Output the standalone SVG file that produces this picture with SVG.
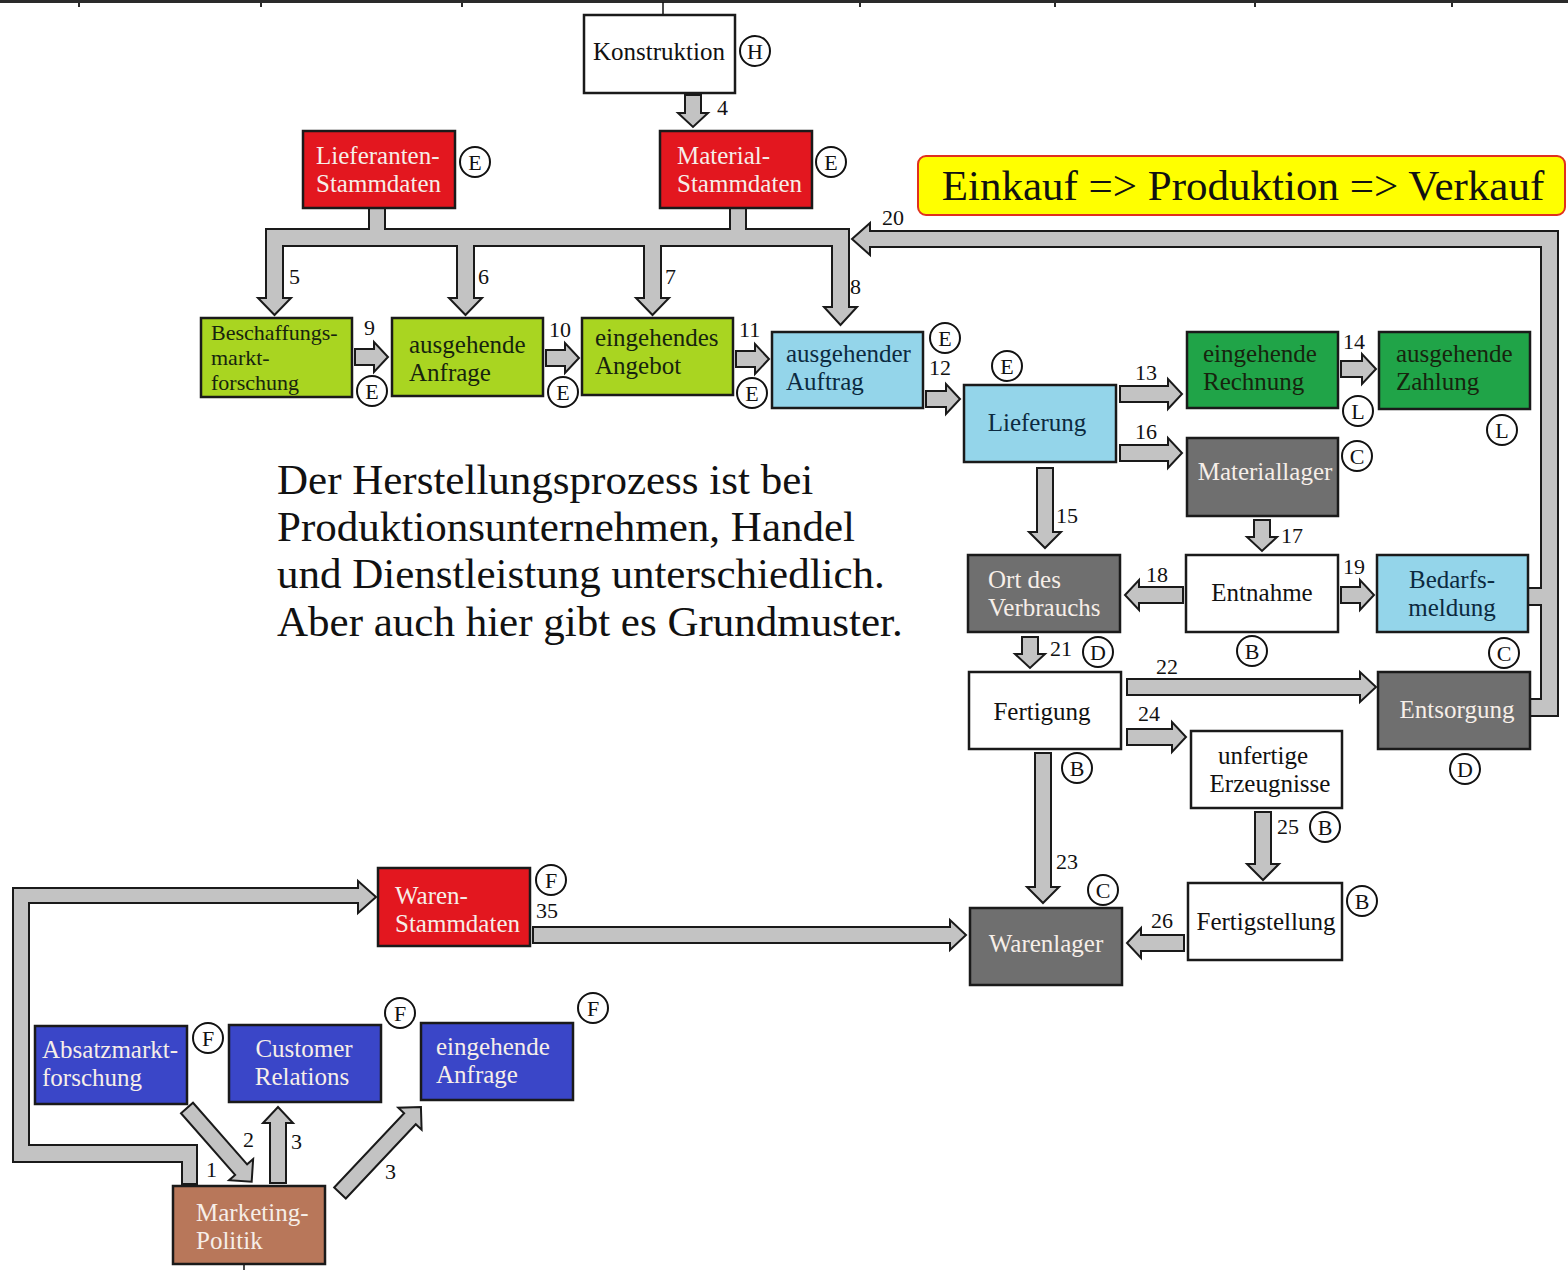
<svg xmlns="http://www.w3.org/2000/svg" width="1568" height="1270" viewBox="0 0 1568 1270">
<style>
.box{stroke:#1a1a1a;stroke-width:2.5}
.red{fill:#e3171f}.lg{fill:#a9d521}.lb{fill:#94d5ea}.dg{fill:#20a448}.gr{fill:#6f6f6f}.wh{fill:#ffffff}.bl{fill:#3a46c8}.br{fill:#b8775a}
text{font-family:"Liberation Serif","Times New Roman",serif}
.t{font-size:25px}
.tw{fill:#f6eee8}.td{fill:#17240e}.tb{fill:#0c2a40}.tk{fill:#111}
.num{font-size:22px;fill:#111}
.arrow{fill:#c3c3c3;stroke:#1a1a1a;stroke-width:2;stroke-linejoin:miter}
.badge circle{fill:#fff;stroke:#111;stroke-width:2}
.badge text{font-size:22px;fill:#111;text-anchor:middle}
.mid{text-anchor:middle}
</style>
<rect width="1568" height="1270" fill="#ffffff"/>
<g id="frame">
<rect x="0" y="0" width="1568" height="3" fill="#2a2a2a"/>
<g fill="#2a2a2a">
<rect x="78" y="2" width="2" height="5"/><rect x="260" y="2" width="2" height="5"/><rect x="461" y="2" width="2" height="5"/>
<rect x="859" y="2" width="2" height="5"/><rect x="1054" y="2" width="2" height="5"/><rect x="1254" y="2" width="2" height="5"/><rect x="1451" y="2" width="2" height="5"/>
</g>
<line x1="663" y1="2" x2="663" y2="15" stroke="#111" stroke-width="1.5"/>
<line x1="244" y1="1264" x2="244" y2="1270" stroke="#111" stroke-width="1.5"/>
</g>

<g id="title">
<rect x="918" y="156" width="647" height="59" rx="8" fill="#ffff00" stroke="#e0301e" stroke-width="2"/>
<text x="1243" y="200" class="mid" font-size="43" fill="#111">Einkauf =&gt; Produktion =&gt; Verkauf</text>
</g>

<g id="note" font-size="43" fill="#111">
<text x="277" y="494">Der Herstellungsprozess ist bei</text>
<text x="277" y="541">Produktionsunternehmen, Handel</text>
<text x="277" y="588">und Dienstleistung unterschiedlich.</text>
<text x="277" y="636">Aber auch hier gibt es Grundmuster.</text>
</g>

<g id="connectors">
<polygon class="arrow" points="266,229 369,229 369,208 385,208 385,229 730,229 730,208 746,208 746,229 849,229 849,307 857,307 840.5,325 824,307 832,307 832,246 661,246 661,298 669,298 652.5,315 636,298 644,298 644,246 474,246 474,298 482,298 465.5,315 449,298 457,298 457,246 283,246 283,298 291,298 274.5,315 258,298 266,298"/>
<polygon class="arrow" points="852,239 870,223 870,231 1558,231 1558,716 1530,716 1530,699 1541,699 1541,605 1528,605 1528,588 1541,588 1541,247 870,247 870,255"/>
<polygon class="arrow" points="197,1184 197,1145 29,1145 29,903 358,903 358,913 376,897 358,881 358,888 13,888 13,1162 182,1162 182,1184"/>
<polygon class="arrow" points="685,95 701,95 701,113 708,113 693,127 678,113 685,113"/>
<polygon class="arrow" points="355,349 374,349 374,342 388,357 374,372 374,365 355,365"/>
<polygon class="arrow" points="546,350 565,350 565,343 579,358 565,373 565,366 546,366"/>
<polygon class="arrow" points="736,351 755,351 755,344 769,359 755,374 755,367 736,367"/>
<polygon class="arrow" points="926,391 946,391 946,384 960,399 946,414 946,407 926,407"/>
<polygon class="arrow" points="1120,386 1168,386 1168,379 1182,394 1168,409 1168,402 1120,402"/>
<polygon class="arrow" points="1341,361 1362,361 1362,354 1376,369 1362,384 1362,377 1341,377"/>
<polygon class="arrow" points="1120,445 1168,445 1168,438 1182,453 1168,468 1168,461 1120,461"/>
<polygon class="arrow" points="1037,468 1053,468 1053,532 1061,532 1045,548 1029,532 1037,532"/>
<polygon class="arrow" points="1254,520 1270,520 1270,537 1277,537 1262,551 1247,537 1254,537"/>
<polygon class="arrow" points="1183,587 1139,587 1139,580 1125,595 1139,610 1139,603 1183,603"/>
<polygon class="arrow" points="1341,587 1360,587 1360,580 1374,595 1360,610 1360,603 1341,603"/>
<polygon class="arrow" points="1022,637 1038,637 1038,654 1045,654 1030,668 1015,654 1022,654"/>
<polygon class="arrow" points="1127,679 1360,679 1360,672 1376,687 1360,702 1360,695 1127,695"/>
<polygon class="arrow" points="1127,729 1172,729 1172,722 1186,737 1172,752 1172,745 1127,745"/>
<polygon class="arrow" points="1035,753 1051,753 1051,887 1059,887 1043,903 1027,887 1035,887"/>
<polygon class="arrow" points="1255,812 1271,812 1271,864 1279,864 1263,880 1247,864 1255,864"/>
<polygon class="arrow" points="1184,935 1141,935 1141,928 1127,943 1141,958 1141,951 1184,951"/>
<polygon class="arrow" points="533,927 950,927 950,920 966,935 950,950 950,943 533,943"/>
<polygon class="arrow" transform="translate(187,1108) rotate(48.7)" points="0,-8 82,-8 82,-16 98,0 82,16 82,8 0,8"/>
<polygon class="arrow" points="270,1183 286,1183 286,1123 293,1123 278,1107 263,1123 270,1123"/>
<polygon class="arrow" transform="translate(340,1193) rotate(-46.7)" points="0,-8 102,-8 102,-16 118,0 102,16 102,8 0,8"/>
<g class="num">
<text x="717" y="115">4</text>
<text x="289" y="284">5</text><text x="478" y="284">6</text><text x="665" y="284">7</text><text x="850" y="294">8</text>
<text x="364" y="335">9</text><text x="549" y="337">10</text><text x="739" y="337">11</text><text x="929" y="375">12</text>
<text x="1135" y="380">13</text><text x="1343" y="349">14</text><text x="1056" y="523">15</text><text x="1135" y="439">16</text>
<text x="1281" y="543">17</text><text x="1146" y="582">18</text><text x="1343" y="574">19</text><text x="882" y="225">20</text>
<text x="1050" y="656">21</text><text x="1156" y="674">22</text><text x="1056" y="869">23</text><text x="1138" y="721">24</text>
<text x="1277" y="834">25</text><text x="1151" y="928">26</text><text x="536" y="918">35</text>
<text x="206" y="1177">1</text><text x="243" y="1147">2</text><text x="291" y="1149">3</text><text x="385" y="1179">3</text>
</g>
</g>

<g id="konstruktion"><rect class="box wh" x="584" y="15" width="151" height="78"/><text class="t tk mid" x="659" y="60">Konstruktion</text></g>
<g id="lieferanten-stammdaten"><rect class="box red" x="303" y="131" width="152" height="77"/><text class="t tw" x="316" y="164">Lieferanten-</text><text class="t tw" x="316" y="192">Stammdaten</text></g>
<g id="material-stammdaten"><rect class="box red" x="660" y="131" width="152" height="77"/><text class="t tw" x="677" y="164">Material-</text><text class="t tw" x="677" y="192">Stammdaten</text></g>
<g id="beschaffungsmarktforschung"><rect class="box lg" x="201" y="318" width="151" height="79"/><text class="td" font-size="22" x="211" y="340">Beschaffungs-</text><text class="td" font-size="22" x="211" y="365">markt-</text><text class="td" font-size="22" x="211" y="390">forschung</text></g>
<g id="ausgehende-anfrage"><rect class="box lg" x="392" y="318" width="151" height="78"/><text class="t td" x="409" y="353">ausgehende</text><text class="t td" x="409" y="381">Anfrage</text></g>
<g id="eingehendes-angebot"><rect class="box lg" x="582" y="318" width="151" height="77"/><text class="t td" x="595" y="346">eingehendes</text><text class="t td" x="595" y="374">Angebot</text></g>
<g id="ausgehender-auftrag"><rect class="box lb" x="772" y="332" width="151" height="76"/><text class="t tb" x="786" y="362">ausgehender</text><text class="t tb" x="786" y="390">Auftrag</text></g>
<g id="lieferung"><rect class="box lb" x="964" y="385" width="152" height="77"/><text class="t tb mid" x="1037" y="431">Lieferung</text></g>
<g id="eingehende-rechnung"><rect class="box dg" x="1187" y="332" width="151" height="76"/><text class="t td" x="1203" y="362">eingehende</text><text class="t td" x="1203" y="390">Rechnung</text></g>
<g id="ausgehende-zahlung"><rect class="box dg" x="1379" y="332" width="151" height="77"/><text class="t td" x="1396" y="362">ausgehende</text><text class="t td" x="1396" y="390">Zahlung</text></g>
<g id="materiallager"><rect class="box gr" x="1187" y="438" width="151" height="78"/><text class="t tw mid" x="1265" y="480">Materiallager</text></g>
<g id="ort-des-verbrauchs"><rect class="box gr" x="968" y="555" width="152" height="77"/><text class="t tw" x="988" y="588">Ort des</text><text class="t tw" x="988" y="616">Verbrauchs</text></g>
<g id="entnahme"><rect class="box wh" x="1186" y="555" width="152" height="77"/><text class="t tk mid" x="1262" y="601">Entnahme</text></g>
<g id="bedarfsmeldung"><rect class="box lb" x="1377" y="555" width="151" height="77"/><text class="t tb mid" x="1452" y="588">Bedarfs-</text><text class="t tb mid" x="1452" y="616">meldung</text></g>
<g id="fertigung"><rect class="box wh" x="969" y="672" width="152" height="77"/><text class="t tk mid" x="1042" y="720">Fertigung</text></g>
<g id="entsorgung"><rect class="box gr" x="1378" y="672" width="152" height="77"/><text class="t tw mid" x="1457" y="718">Entsorgung</text></g>
<g id="unfertige-erzeugnisse"><rect class="box wh" x="1191" y="731" width="151" height="77"/><text class="t tk mid" x="1263" y="764">unfertige</text><text class="t tk mid" x="1270" y="792">Erzeugnisse</text></g>
<g id="fertigstellung"><rect class="box wh" x="1188" y="883" width="154" height="77"/><text class="t tk mid" x="1266" y="930">Fertigstellung</text></g>
<g id="warenlager"><rect class="box gr" x="970" y="908" width="152" height="77"/><text class="t tw mid" x="1046" y="952">Warenlager</text></g>
<g id="waren-stammdaten"><rect class="box red" x="378" y="868" width="152" height="78"/><text class="t tw" x="395" y="904">Waren-</text><text class="t tw" x="395" y="932">Stammdaten</text></g>
<g id="absatzmarktforschung"><rect class="box bl" x="35" y="1026" width="152" height="78"/><text class="t tw" x="42" y="1058">Absatzmarkt-</text><text class="t tw" x="42" y="1086">forschung</text></g>
<g id="customer-relations"><rect class="box bl" x="229" y="1025" width="152" height="77"/><text class="t tw mid" x="304" y="1057">Customer</text><text class="t tw mid" x="302" y="1085">Relations</text></g>
<g id="eingehende-anfrage"><rect class="box bl" x="421" y="1023" width="152" height="77"/><text class="t tw" x="436" y="1055">eingehende</text><text class="t tw" x="436" y="1083">Anfrage</text></g>
<g id="marketing-politik"><rect class="box br" x="173" y="1186" width="152" height="78"/><text class="t tw" x="196" y="1221">Marketing-</text><text class="t tw" x="196" y="1249">Politik</text></g>

<g id="badges" class="badge">
<g><circle cx="755" cy="51" r="15"/><text x="755" y="59">H</text></g>
<g><circle cx="475" cy="162" r="15"/><text x="475" y="170">E</text></g>
<g><circle cx="831" cy="162" r="15"/><text x="831" y="170">E</text></g>
<g><circle cx="372" cy="391" r="15"/><text x="372" y="399">E</text></g>
<g><circle cx="563" cy="392" r="15"/><text x="563" y="400">E</text></g>
<g><circle cx="752" cy="393" r="15"/><text x="752" y="401">E</text></g>
<g><circle cx="945" cy="338" r="15"/><text x="945" y="346">E</text></g>
<g><circle cx="1007" cy="366" r="15"/><text x="1007" y="374">E</text></g>
<g><circle cx="1358" cy="411" r="15"/><text x="1358" y="419">L</text></g>
<g><circle cx="1502" cy="430" r="15"/><text x="1502" y="438">L</text></g>
<g><circle cx="1357" cy="456" r="15"/><text x="1357" y="464">C</text></g>
<g><circle cx="1252" cy="651" r="15"/><text x="1252" y="659">B</text></g>
<g><circle cx="1504" cy="653" r="15"/><text x="1504" y="661">C</text></g>
<g><circle cx="1098" cy="652" r="15"/><text x="1098" y="660">D</text></g>
<g><circle cx="1465" cy="769" r="15"/><text x="1465" y="777">D</text></g>
<g><circle cx="1077" cy="768" r="15"/><text x="1077" y="776">B</text></g>
<g><circle cx="1325" cy="827" r="15"/><text x="1325" y="835">B</text></g>
<g><circle cx="1362" cy="901" r="15"/><text x="1362" y="909">B</text></g>
<g><circle cx="1103" cy="890" r="15"/><text x="1103" y="898">C</text></g>
<g><circle cx="551" cy="880" r="15"/><text x="551" y="888">F</text></g>
<g><circle cx="208" cy="1038" r="15"/><text x="208" y="1046">F</text></g>
<g><circle cx="400" cy="1013" r="15"/><text x="400" y="1021">F</text></g>
<g><circle cx="593" cy="1008" r="15"/><text x="593" y="1016">F</text></g>
</g>
</svg>
